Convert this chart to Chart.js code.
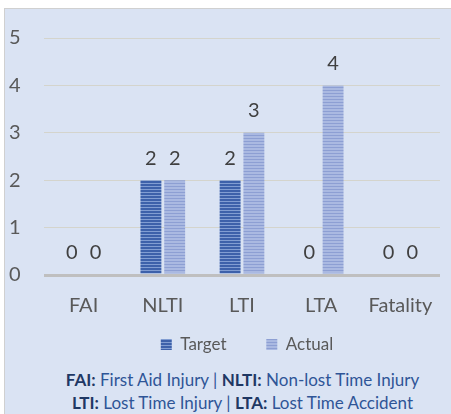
<!DOCTYPE html>
<html>
<head>
<meta charset="utf-8">
<script src="https://cdn.jsdelivr.net/npm/chart.js@4"></script>
<style>
  html, body { margin: 0; background: #fff; overflow: hidden; font-family: Lato, "Open Sans", sans-serif; }
  #box { position: absolute; left: 4px; top: 8px; width: 481px; height: 406px;
         background: #dae3f3; border-left: 1px solid #d0d0d0; border-top: 1px solid #d0d0d0; box-sizing: border-box; }
  #wrap { position: absolute; left: 0; top: 0; width: 480px; height: 356px; }
  #note { position: absolute; left: 0; width: 475px; top: 359px; text-align: center;
          font-size: 17px; line-height: 23px; color: #2f5597; }
  #note b { color: #1f3864; }
</style>
</head>
<body>
<div id="box">
  <div id="wrap"><canvas id="chart-area"></canvas></div>
  <div id="note">
    <b>FAI:</b> First Aid Injury | <b>NLTI:</b> Non-lost Time Injury<br>
    <b>LTI:</b> Lost Time Injury | <b>LTA:</b> Lost Time Accident
  </div>
</div>
<script>
var categories = ['FAI', 'NLTI', 'LTI', 'LTA', 'Fatality'];
var target = [0, 2, 2, 0, 0];
var actual = [0, 2, 3, 4, 0];

// horizontal stripe fill like the original bars
function stripes(base, line){
  var c = document.createElement('canvas');
  c.width = 4; c.height = 3;
  var g = c.getContext('2d');
  g.fillStyle = base; g.fillRect(0, 0, 4, 3);
  g.fillStyle = line; g.fillRect(0, 0, 4, 1);
  return g.createPattern(c, 'repeat');
}

var ctx = document.getElementById('chart-area').getContext('2d');
var targetFill = stripes('#3d61aa', '#819dd2');
var actualFill = stripes('#aab9e1', '#8d9fd3');
var fontFam = 'Lato, "Open Sans", sans-serif';

var valueLabels = {
  id: 'valueLabels',
  afterDatasetsDraw: function(chart){
    var c = chart.ctx;
    c.save();
    c.font = '20px ' + fontFam;
    c.fillStyle = '#404040';
    c.textAlign = 'center';
    c.textBaseline = 'bottom';
    chart.data.datasets.forEach(function(ds, i){
      chart.getDatasetMeta(i).data.forEach(function(el, j){
        c.fillText(ds.data[j], el.x, el.y - 12);
      });
    });
    c.restore();
  }
};

var config = {
  type: 'bar',
  data: {
    labels: categories,
    datasets: [{
      label: 'Target',
      data: target,
      backgroundColor: targetFill,
      borderWidth: 0,
      categoryPercentage: 0.6,
      barPercentage: 0.88
    },
    {
      label: 'Actual',
      data: actual,
      backgroundColor: actualFill,
      borderWidth: 0,
      categoryPercentage: 0.6,
      barPercentage: 0.88
    }]
  },
  options: {
    responsive: true,
    maintainAspectRatio: false,
    animation: false,
    layout: { padding: { left: 4, right: 0, top: 29, bottom: 2 } },
    scales: {
      y: {
        min: 0, max: 5,
        afterFit: function(s){ s.width = 35; },
        ticks: { stepSize: 1, padding: 0, crossAlign: 'far', color: '#595959', font: { size: 20, family: fontFam } },
        grid: {
          drawTicks: false,
          color: function(c){ return c.tick && c.tick.value === 0 ? '#bfbfbf' : '#d4d4cc'; },
          lineWidth: function(c){ return c.tick && c.tick.value === 0 ? 3 : 1; }
        },
        border: { display: false }
      },
      // empty space on the right of the plot, keeps the legend centred on the page
      yRight: {
        position: 'right',
        afterFit: function(s){ s.width = 45; },
        ticks: { display: false },
        grid: { display: false, drawTicks: false },
        border: { display: false }
      },
      x: {
        afterFit: function(s){ s.height = 43; },
        ticks: { padding: 19, color: '#595959', font: { size: 20, family: fontFam } },
        grid: { display: false, drawTicks: false },
        border: { display: false }
      }
    },
    plugins: {
      legend: {
        position: 'bottom',
        labels: {
          boxWidth: 11, boxHeight: 11, padding: 18, color: '#595959', font: { size: 17, family: fontFam },
          generateLabels: function(chart){
            var items = Chart.defaults.plugins.legend.labels.generateLabels(chart);
            // widen the gap after the first entry
            items[0].text = items[0].text + '     ';
            return items;
          }
        }
      },
      tooltip: { enabled: false }
    }
  },
  plugins: [valueLabels]
};
var chart = new Chart(ctx, config);
</script>
</body>
</html>
